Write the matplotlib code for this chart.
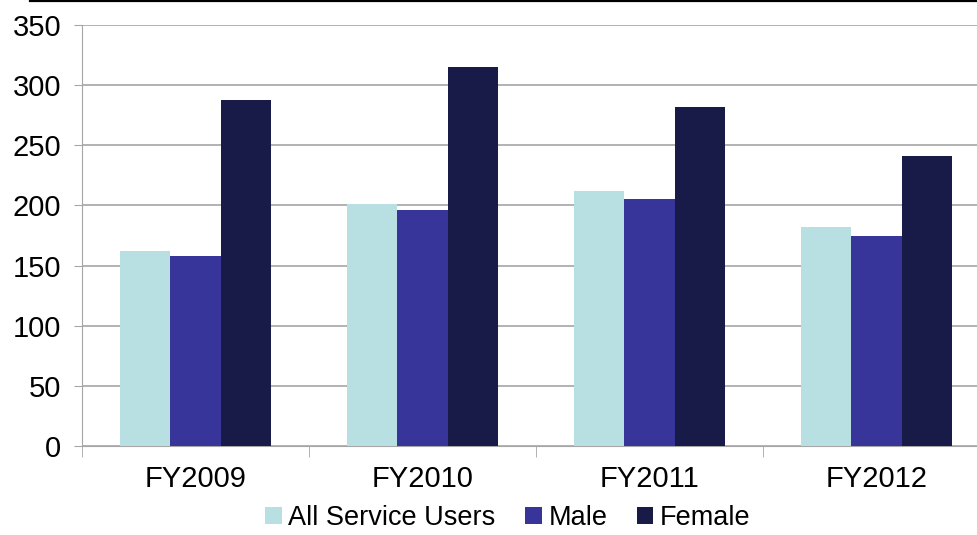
import numpy as np
import matplotlib
matplotlib.use('Agg')
import matplotlib.pyplot as plt
from matplotlib.lines import Line2D
from matplotlib.patches import Patch

matplotlib.rcParams.update({'font.family': 'Liberation Sans', 'font.size': 21})

years = ['FY2009', 'FY2010', 'FY2011', 'FY2012']
all_users = [162, 201, 212, 182]
male = [158, 196, 205, 175]
female = [288, 315, 282, 241]
series_names = ['All Service Users', 'Male', 'Female']
colors = ['#B8E0E3', '#37349A', '#181A48']

fig = plt.figure(figsize=(9.77, 5.35), dpi=100)
ax = fig.add_axes([82/977, 1 - 446/535, 908/977, 421/535])

x = np.arange(len(years))
w = 0.222
for i, (vals, c) in enumerate(zip([all_users, male, female], colors)):
    ax.bar(x + (i - 1) * w, vals, width=w, color=c, zorder=3)

ax.set_ylim(0, 350)
ax.set_yticks(range(0, 351, 50))
ax.set_xlim(-0.5, 3.5)
ax.set_xticks(x)
ax.set_xticklabels(years)
ax.set_xticks(np.arange(-0.5, 3.6, 1), minor=True)
ax.grid(axis='y', color='#A6A6A6', linewidth=1.2, zorder=0)
for s in ['top', 'right']:
    ax.spines[s].set_visible(False)
ax.spines['left'].set_color('#A6A6A6')
ax.spines['bottom'].set_color('#A6A6A6')
ax.tick_params(axis='y', length=6, color='#A6A6A6', pad=9)
ax.tick_params(axis='x', which='major', length=0, pad=14)
ax.tick_params(axis='x', which='minor', length=8, color='#A6A6A6')

handles = [Patch(facecolor=c) for c in colors]
fig.legend(handles, series_names, loc='lower center', bbox_to_anchor=(0.52, 0.002),
           borderaxespad=0.0, borderpad=0.1,
           ncol=3, frameon=False, handlelength=0.6, handleheight=0.6,
           handletextpad=0.25, columnspacing=1.1, fontsize=19.5)

fig.add_artist(Line2D([30/977, 1], [1 - 1.2/535, 1 - 1.2/535], color='black', linewidth=1.6))

fig.savefig('out.png', dpi=100)
